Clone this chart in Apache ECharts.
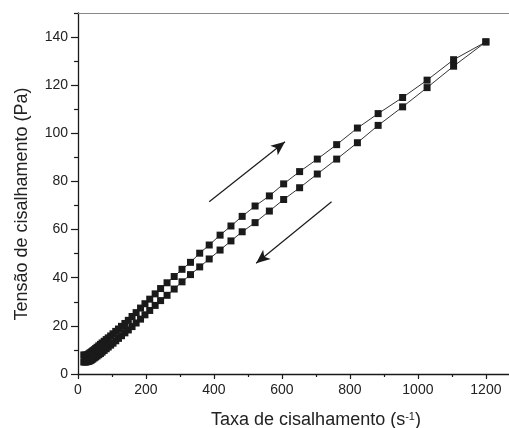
<!DOCTYPE html>
<html>
<head>
<meta charset="utf-8">
<script src="https://cdn.jsdelivr.net/npm/echarts@6/dist/echarts.min.js"></script>
<style>
html,body{margin:0;padding:0;background:#fff;}
#chart{width:509px;height:428px;}
</style>
</head>
<body>
<div id="chart"></div>
<script>
// Shear rate (s^-1), shared by both ramps
var shearRate = [17,20,23,26,29,32,35,38,41,44,48,52,56,61,66,71,77,83,89,96,103,111,119,128,138,148,159,171,184,197,211,227,243,262,283,306,331,358,386,418,450,483,521,563,605,652,704,761,822,883,955,1027,1105,1200];
// Shear stress (Pa), increasing ramp (upper curve)
var stressUp = [7.9,7.8,7.8,7.9,8.1,8.4,8.7,9.0,9.3,9.7,10.1,10.6,11.1,11.7,12.3,12.9,13.6,14.3,15.0,15.8,16.7,17.7,18.7,19.8,21.0,22.3,23.9,25.5,27.4,29.2,31.1,33.3,35.5,37.9,40.5,43.5,46.4,50.2,53.6,57.7,61.5,65.5,69.8,74.0,79.0,84.1,89.3,95.3,102.2,108.2,114.9,122.1,130.6,138.0];
// Shear stress (Pa), decreasing ramp (lower curve)
var stressDown = [5.0,5.0,5.0,5.1,5.2,5.3,5.5,5.7,6.0,6.3,6.7,7.1,7.5,8.0,8.5,9.1,9.8,10.5,11.2,12.0,12.8,13.8,14.8,15.9,17.1,18.3,19.7,21.2,22.8,24.6,26.4,28.5,30.5,32.7,35.3,38.3,41.3,44.5,47.8,51.5,55.3,59.1,62.9,67.7,72.5,77.4,83.1,89.3,96.1,103.3,111.0,119.0,127.9,138.0];
// Tick values
var xTicks = [0,200,400,600,800,1000,1200];
var xMinorTicks = [100,300,500,700,900,1100];
var yTicks = [0,20,40,60,80,100,120,140];
var yMinorTicks = [10,30,50,70,90,110,130,150];
// Arrow annotations (data coordinates: start, end)
var arrowUp = [[386,71.6],[609,96.5]];
var arrowDown = [[746,71.6],[524,46.0]];

var xMax = 1268, yMax = 150;
var FONT = '"Liberation Sans", Arial, Helvetica, sans-serif';
var INK = '#1a1a1a';

function pairs(xs, ys){ return xs.map(function(x,i){ return [x, ys[i]]; }); }
function plain(v){ return String(v); }

var chart = echarts.init(document.getElementById('chart'), null, {renderer:'canvas'});
var option = {
  animation: false,
  backgroundColor: '#fff',
  grid: {left: 78, right: 0, top: 13, bottom: 54, containLabel: false},
  xAxis: [
    {type:'value', min:0, max:xMax, position:'bottom',
     axisLine:{show:true, onZero:false, lineStyle:{color:INK, width:1.3}},
     axisTick:{show:true, customValues:xTicks, length:5, lineStyle:{color:INK, width:1.2}},
     axisLabel:{customValues:xTicks, formatter:plain, margin:9, fontSize:14, color:'#222', fontFamily:FONT},
     splitLine:{show:false}},
    {type:'value', min:0, max:xMax, position:'bottom',
     axisLine:{show:false},
     axisTick:{show:true, customValues:xMinorTicks, length:3, lineStyle:{color:INK, width:1.2}},
     axisLabel:{show:false}, splitLine:{show:false}},
    {type:'value', min:0, max:xMax, position:'top',
     axisLine:{show:true, onZero:false, lineStyle:{color:'#888', width:1}},
     axisTick:{show:false}, axisLabel:{show:false}, splitLine:{show:false}}
  ],
  yAxis: [
    {type:'value', min:0, max:yMax, position:'left',
     axisLine:{show:true, onZero:false, lineStyle:{color:INK, width:1.3}},
     axisTick:{show:true, customValues:yTicks, length:7, lineStyle:{color:INK, width:1.2}},
     axisLabel:{customValues:yTicks, formatter:plain, margin:10, fontSize:14, color:'#222', fontFamily:FONT},
     splitLine:{show:false}},
    {type:'value', min:0, max:yMax, position:'left',
     axisLine:{show:false},
     axisTick:{show:true, customValues:yMinorTicks, length:4, lineStyle:{color:INK, width:1.2}},
     axisLabel:{show:false}, splitLine:{show:false}}
  ],
  series: [
    {type:'line', name:'up', xAxisIndex:0, yAxisIndex:0, data:pairs(shearRate, stressUp),
     symbol:'rect', symbolSize:7, showAllSymbol:true,
     itemStyle:{color:INK}, lineStyle:{color:'#333', width:1},
     markLine:{silent:true, symbol:['none','arrow'], symbolSize:[9,14],
       label:{show:false}, lineStyle:{color:INK, width:1.2, type:'solid'},
       data:[
         [{coord:arrowUp[0]},{coord:arrowUp[1]}],
         [{coord:arrowDown[0]},{coord:arrowDown[1]}]
       ]}},
    {type:'line', name:'down', xAxisIndex:0, yAxisIndex:0, data:pairs(shearRate, stressDown),
     symbol:'rect', symbolSize:7, showAllSymbol:true,
     itemStyle:{color:INK}, lineStyle:{color:'#333', width:1}}
  ],
  graphic: [
    {type:'text', x:22, y:204, rotation:Math.PI/2,
     style:{text:'Tensão de cisalhamento (Pa)', fontSize:18, fontFamily:FONT, fill:'#222',
            align:'center', verticalAlign:'middle'}},
    {type:'text', x:316, y:420,
     style:{text:'Taxa de cisalhamento (s{sup|-1})', fontSize:18, fontFamily:FONT, fill:'#222',
            align:'center', verticalAlign:'middle',
            rich:{sup:{fontSize:11, fontFamily:FONT, fill:'#222', verticalAlign:'top', padding:[0,0,6,0]}}}}
  ]
};
chart.setOption(option);
</script>
</body>
</html>
